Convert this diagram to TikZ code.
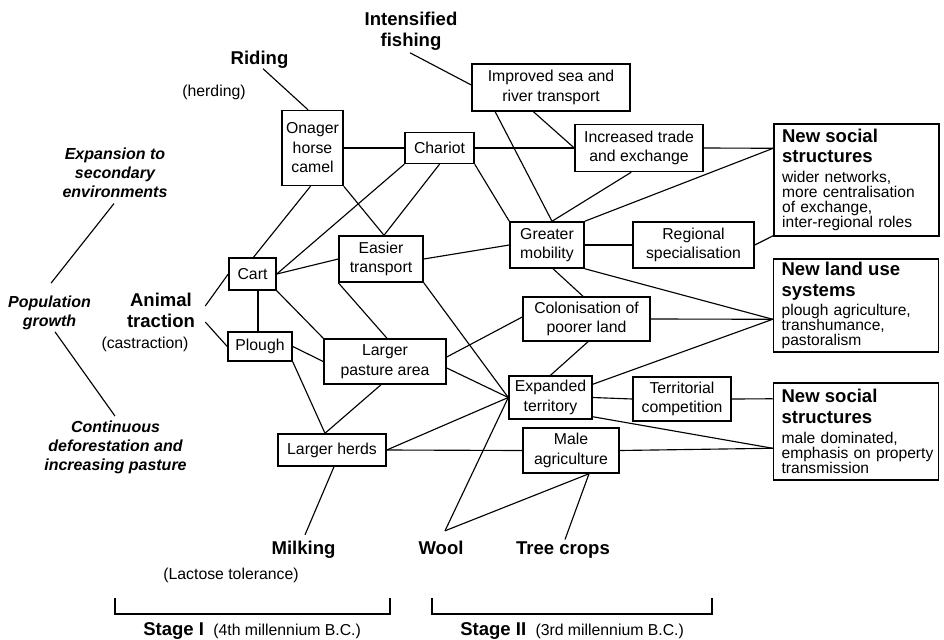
\documentclass[tikz,border=0pt]{standalone}
\usepackage{fontspec}
\setmainfont{Liberation Sans}
\usetikzlibrary{calc}
\newcommand\labR{\fontsize{11.85}{14.6}\selectfont}
\newcommand\labB{\fontsize{13.9}{15.5}\selectfont\bfseries}
\newcommand\labBI{\fontsize{12}{14.4}\selectfont\bfseries\itshape}
\newcommand\labS{\fontsize{11.7}{11.3}\selectfont}
\begin{document}
\begin{tikzpicture}[x=0.75pt,y=-0.75pt,
  bx/.style={draw, line width=1.1pt, inner sep=0pt, align=center, font=\labR},
  bigbx/.style={draw, line width=1.1pt, text width=120pt, inner xsep=1.9pt, inner ysep=0pt, align=left, font=\labS},
  ln/.style={line width=0.85pt},
  lb/.style={inner sep=0pt, align=center}]
\useasboundingbox (0,0) rectangle (944,639);

% boxes
\node[bx, minimum width=45.75pt, minimum height=56.25pt] (onager) at (312.5,148) {Onager\\horse\\camel};
\node[bx, minimum width=51.75pt, minimum height=23.25pt] (chariot) at (439.5,148) {Chariot};
\node[bx, minimum width=118.5pt, minimum height=35.25pt] (improved) at (551,87.5) {Improved sea and\\river transport};
\node[bx, minimum width=96pt, minimum height=35.25pt] (trade) at (639,148) {Increased trade\\and exchange};
\node[bx, minimum width=90.75pt, minimum height=34.5pt] (regional) at (693.5,245) {Regional\\specialisation};
\node[bx, minimum width=55.5pt, minimum height=34.5pt] (mobility) at (547,245) {Greater\\mobility};
\node[bx, minimum width=63pt, minimum height=34.5pt] (easier) at (381,259) {Easier\\transport};
\node[bx, minimum width=35.25pt, minimum height=24pt] (cart) at (252.5,274) {Cart};
\node[bx, minimum width=48pt, minimum height=21.75pt] (plough) at (260,346.5) {Plough};
\node[bx, minimum width=91.5pt, minimum height=33.75pt] (pasture) at (385,361.5) {Larger\\pasture area};
\node[bx, minimum width=95.25pt, minimum height=33pt] (colon) at (586.5,319) {Colonisation of\\poorer land};
\node[bx, minimum width=62.25pt, minimum height=32.25pt] (expanded) at (550.5,397.5) {Expanded\\territory};
\node[bx, minimum width=73.5pt, minimum height=33pt] (territorial) at (682,399) {Territorial\\competition};
\node[bx, minimum width=72pt, minimum height=33.75pt] (male) at (571,450.5) {Male\\agriculture};
\node[bx, minimum width=81pt, minimum height=24pt] (herds) at (332,450) {Larger herds};

\node[bigbx, minimum height=84pt] (nss1) at (856.5,180) {\leftskip=4.2pt{\labB New social\\structures\par}\vspace{3.5pt}wider networks,\\more centralisation\\of exchange,\\inter-regional roles\par};
\node[bigbx, minimum height=69.75pt] (nlu) at (856,305.5) {\leftskip=4.2pt{\labB New land use\\systems\par}\vspace{2pt}plough agriculture,\\transhumance,\\pastoralism\par};
\node[bigbx, minimum height=72.75pt] (nss2) at (856,431.5) {\leftskip=4.2pt{\labB New social\\structures\par}\vspace{3.5pt}male dominated,\\emphasis on property\\transmission\par};

% free labels
\node[lb, font=\labB, anchor=base] (riding) at (259.5,64.5) {Riding};
\node[lb, font=\labR, anchor=base] (herding) at (214,96.7) {(herding)};
\node[lb, font=\labB] (fishing) at (411,31.5) {Intensified\\fishing};
\node[lb, font=\labBI] (expansion) at (115,172.7) {Expansion to\\secondary\\environments};
\node[lb, font=\labBI] (population) at (49.5,312.5) {Population\\growth};
\node[lb, font=\labB] (animal) at (161,310.5) {Animal\\traction};
\node[lb, font=\labR, anchor=base] (castration) at (145,348.5) {(castraction)};
\node[lb, font=\labBI] (continuous) at (115.5,447.5) {Continuous\\deforestation and\\increasing pasture};
\node[lb, font=\labB, anchor=base] (milking) at (303.5,554) {Milking};
\node[lb, font=\labR, anchor=base] (lactose) at (231,579.7) {(Lactose tolerance)};
\node[lb, font=\labB, anchor=base] (wool) at (441,554) {Wool};
\node[lb, font=\labB, anchor=base] (treecrops) at (563,554) {Tree crops};
\node[inner sep=0pt, anchor=base west] (stage1) at (143,635) {{\labB Stage I}\hspace{7pt}{\labR (4th millennium B.C.)}};
\node[inner sep=0pt, anchor=base west] (stage2) at (460,635) {{\labB Stage II}\hspace{7pt}{\labR (3rd millennium B.C.)}};

% brackets
\draw[ln] (115,598) -- (115,614) -- (390,614) -- (390,598);
\draw[ln] (432,598) -- (432,614) -- (712,614) -- (712,598);

% connectors
\draw[ln] ($(riding.south)+(3.5,0)$) -- ($(onager.north)+(-4.5,0)$);
\draw[ln] ($(fishing.south)+(-1,2)$) -- ($(improved.west)+(0,-2.5)$);
\draw[ln] ($(expansion.south)+(-1,5.5)$) -- ($(population.north)+(1.5,-12)$);
\draw[ln] ($(population.south)+(5.5,2)$) -- ($(continuous.north)+(-0.5,-4.5)$);
\draw[ln] ($(animal.east)+(10,-4.5)$) -- (cart.west);
\draw[ln] ($(animal.east)+(10,11.5)$) -- (plough.west);
\draw[ln] (onager.east) -- (chariot.west);
\draw[ln] (chariot.east) -- (trade.west);
\draw[ln] ($(onager.south)+(-2,0)$) -- ($(cart.north)+(1,0)$);
\draw[ln] (onager.south east) -- ($(easier.north)+(3,0)$);
\draw[ln] (chariot.south west) -- (cart.east);
\draw[ln] (chariot.south) -- ($(easier.north)+(3,0)$);
\draw[ln] (cart.east) -- (easier.west);
\draw[ln] (chariot.south east) -- (mobility.north west);
\draw[ln] ($(improved.south west)!0.15!(improved.south east)$) -- ($(mobility.north)+(5,0)$);
\draw[ln] ($(improved.south west)!0.39!(improved.south east)$) -- (trade.west);
\draw[ln] ($(trade.south west)!0.44!(trade.south east)$) -- ($(mobility.north)+(5,0)$);
\draw[ln] (trade.east) -- ($(nss1.north west)+(0,25)$);
\draw[ln] (mobility.north east) -- ($(nss1.north west)+(0,25)$);
\draw[ln] (mobility.east) -- (regional.west);
\draw[ln] (regional.east) -- ($(nss1.south west)+(0,-1)$);
\draw[ln] (mobility.south east) -- ($(nlu.north west)+(0,61)$);
\draw[ln] (colon.east) -- ($(nlu.north west)+(0,61)$);
\draw[ln] ($(expanded.north east)+(0,9)$) -- ($(nlu.north west)+(0,61)$);
\draw[ln] ($(mobility.south)+(6,0)$) -- ($(colon.north)+(-3.5,0)$);
\draw[ln] (easier.east) -- (mobility.west);
\draw[ln] (easier.south west) -- ($(pasture.north)+(2,0)$);
\draw[ln] (easier.south east) -- (expanded.west);
\draw[ln] ($(cart.south)+(5.5,0)$) -- ($(plough.north)+(-2,0)$);
\draw[ln] (cart.south east) -- (pasture.north west);
\draw[ln] (plough.east) -- (pasture.west);
\draw[ln] (plough.south east) -- ($(herds.north)+(-7,0)$);
\draw[ln] ($(pasture.south)+(-4,0)$) -- ($(herds.north)+(-7,0)$);
\draw[ln] ($(pasture.east)+(0,-4.5)$) -- ($(colon.west)+(0,-2)$);
\draw[ln] ($(pasture.east)+(0,6.5)$) -- (expanded.west);
\draw[ln] (herds.east) -- (expanded.west);
\draw[ln] (herds.east) -- (male.west);
\draw[ln] (male.east) -- ($(nss2.north west)+(0,66)$);
\draw[ln] ($(expanded.south east)+(0,-3)$) -- ($(nss2.north west)+(0,66)$);
\draw[ln] ($(colon.south)+(1.5,0)$) -- (expanded.north);
\draw[ln] (expanded.east) -- (territorial.west);
\draw[ln] (territorial.east) -- ($(nss2.north west)+(0,16.5)$);
\draw[ln] ($(herds.south)+(2,0)$) -- ($(milking.north)+(1.5,-5.5)$);
\draw[ln] ($(wool.north)+(4,-9.5)$) -- (expanded.west);
\draw[ln] ($(wool.north)+(4,-9.5)$) -- ($(male.south)+(18,0)$);
\draw[ln] ($(treecrops.north)+(2,-1.5)$) -- ($(male.south)+(18,0)$);
\end{tikzpicture}
\end{document}
